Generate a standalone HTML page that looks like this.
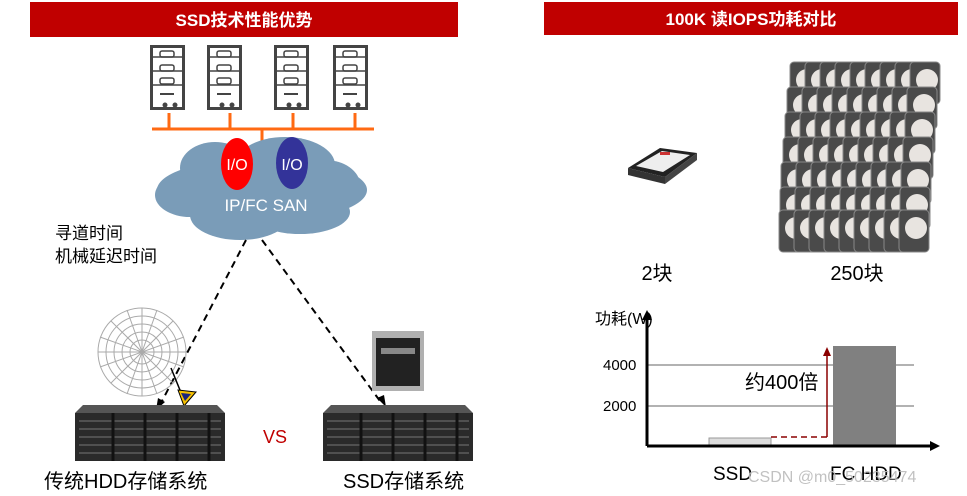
<!DOCTYPE html>
<html><head><meta charset="utf-8"><style>
body{margin:0;width:967px;height:496px;background:#fff;overflow:hidden;position:relative;font-family:"Liberation Sans","Noto Sans CJK SC",sans-serif}
</style></head><body>
<svg width="967" height="496" style="position:absolute;left:0;top:0" font-family="Liberation Sans, Noto Sans CJK SC, sans-serif">
<defs>
<g id="srv">
<rect x="1.5" y="1.5" width="32" height="62" fill="#fff" stroke="#444" stroke-width="3"/>
<line x1="2" y1="12" x2="33" y2="12" stroke="#444" stroke-width="1.5"/>
<line x1="2" y1="26" x2="33" y2="26" stroke="#444" stroke-width="1.5"/>
<line x1="2" y1="40" x2="33" y2="40" stroke="#444" stroke-width="1.5"/>
<rect x="10" y="6" width="14" height="6" rx="2" fill="none" stroke="#444" stroke-width="1.5"/>
<rect x="10" y="20" width="14" height="6" rx="2" fill="none" stroke="#444" stroke-width="1.5"/>
<rect x="10" y="33" width="14" height="6" rx="2" fill="none" stroke="#444" stroke-width="1.5"/>
<line x1="10" y1="49" x2="24" y2="49" stroke="#444" stroke-width="2"/>
<circle cx="15" cy="60" r="2.5" fill="#444"/><circle cx="25" cy="60" r="2.5" fill="#444"/>
</g>
<g id="encl">
<polygon points="8,0 142,0 150,8 0,8" fill="#555"/>
<rect x="0" y="8" width="150" height="48" fill="#2a2a2a"/>
<g stroke="#777" stroke-width="1">
<line x1="4" y1="16" x2="146" y2="16"/><line x1="4" y1="24" x2="146" y2="24"/><line x1="4" y1="32" x2="146" y2="32"/><line x1="4" y1="40" x2="146" y2="40"/><line x1="4" y1="48" x2="146" y2="48"/>
</g>
<g stroke="#111" stroke-width="3"><line x1="38" y1="8" x2="38" y2="56"/><line x1="70" y1="8" x2="70" y2="56"/><line x1="102" y1="8" x2="102" y2="56"/><line x1="134" y1="8" x2="134" y2="56"/></g>
</g>
<g id="hdd">
<rect x="0" y="0" width="30" height="42" rx="4" fill="#4a4a4a" stroke="#888" stroke-width="1"/>
<circle cx="17" cy="18" r="11" fill="#e8e4e0"/>
</g>
<g id="row"><use href="#hdd" x="0" y="0"/><use href="#hdd" x="15" y="0"/><use href="#hdd" x="30" y="0"/><use href="#hdd" x="45" y="0"/><use href="#hdd" x="60" y="0"/><use href="#hdd" x="75" y="0"/><use href="#hdd" x="90" y="0"/><use href="#hdd" x="105" y="0"/><use href="#hdd" x="120" y="0"/></g>
</defs>
<rect x="30" y="2" width="428" height="35" fill="#c00000"/>
<text x="244" y="26" fill="#fff" font-size="17" font-weight="bold" text-anchor="middle">SSD技术性能优势</text>
<rect x="544" y="2" width="414" height="33" fill="#c00000"/>
<text x="751" y="25" fill="#fff" font-size="17" font-weight="bold" text-anchor="middle">100K 读IOPS功耗对比</text>
<use href="#srv" x="150" y="45"/><use href="#srv" x="207" y="45"/><use href="#srv" x="274" y="45"/><use href="#srv" x="333" y="45"/>
<g stroke="#ff6a13" stroke-width="3">
<line x1="152" y1="129" x2="374" y2="129"/>
<line x1="169" y1="113" x2="169" y2="129"/><line x1="230" y1="113" x2="230" y2="129"/><line x1="293" y1="113" x2="293" y2="129"/><line x1="355" y1="113" x2="355" y2="129"/>
<line x1="262" y1="129" x2="262" y2="142"/>
</g>
<g fill="#7a9cb8">
<ellipse cx="262" cy="190" rx="105" ry="32"/>
<ellipse cx="215" cy="168" rx="35" ry="26"/>
<ellipse cx="285" cy="165" rx="50" ry="28"/>
<ellipse cx="325" cy="185" rx="35" ry="25"/>
<ellipse cx="240" cy="215" rx="50" ry="25"/>
<ellipse cx="300" cy="212" rx="50" ry="22"/>
<ellipse cx="190" cy="195" rx="35" ry="22"/>
</g>
<ellipse cx="237" cy="164" rx="16" ry="26" fill="#ff0000"/>
<ellipse cx="292" cy="163" rx="16" ry="26" fill="#333399"/>
<text x="237" y="170" fill="#fff" font-size="16" text-anchor="middle">I/O</text>
<text x="292" y="170" fill="#fff" font-size="16" text-anchor="middle">I/O</text>
<text x="266" y="211" fill="#fff" font-size="17" text-anchor="middle">IP/FC SAN</text>
<text x="55" y="239" font-size="17" fill="#000">寻道时间</text>
<text x="55" y="262" font-size="17" fill="#000">机械延迟时间</text>
<g stroke="#000" stroke-width="2" stroke-dasharray="7,5" fill="none">
<line x1="246" y1="240" x2="161" y2="403"/>
<line x1="262" y1="240" x2="380" y2="401"/>
</g>
<polygon points="156,410 158,398 165,402" fill="#000"/>
<polygon points="386,407 377,398 384,395" fill="#000"/>
<g fill="none" stroke="#aaa" stroke-width="1">
<circle cx="142" cy="352" r="44"/><circle cx="142" cy="352" r="36"/><circle cx="142" cy="352" r="28"/><circle cx="142" cy="352" r="20"/><circle cx="142" cy="352" r="12"/>
<line x1="98" y1="352" x2="186" y2="352"/><line x1="142" y1="308" x2="142" y2="396"/><line x1="111" y1="321" x2="173" y2="383"/><line x1="111" y1="383" x2="173" y2="321"/>
<line x1="100" y1="337" x2="184" y2="367"/><line x1="100" y1="367" x2="184" y2="337"/><line x1="127" y1="310" x2="157" y2="394"/><line x1="157" y1="310" x2="127" y2="394"/>
</g>
<line x1="171" y1="368" x2="184" y2="400" stroke="#000" stroke-width="1.5"/>
<polygon points="178,390 196,392 184,406" fill="#f5c000" stroke="#000"/>
<polygon points="181,393 191,394 185,401" fill="#1a237e"/>
<use href="#encl" x="75" y="405"/>
<use href="#encl" x="323" y="405"/>
<rect x="372" y="331" width="52" height="60" fill="#b0b0b0"/>
<rect x="376" y="338" width="44" height="48" fill="#222"/>
<rect x="381" y="348" width="34" height="6" fill="#888"/>
<text x="275" y="443" fill="#c00000" font-size="18" text-anchor="middle">VS</text>
<text x="44" y="488" font-size="20" fill="#000">传统HDD存储系统</text>
<text x="343" y="488" font-size="20" fill="#000">SSD存储系统</text>
<polygon points="628,168 660,148 697,153 665,177" fill="#222"/>
<polygon points="636,166 662,151 690,155 663,172" fill="#eee"/>
<polygon points="628,168 665,177 665,184 628,175" fill="#333"/>
<polygon points="665,177 697,153 697,160 665,184" fill="#444"/>
<rect x="660" y="152" width="10" height="3" fill="#c33"/>
<use href="#row" x="790" y="62"/><use href="#row" x="787" y="87"/><use href="#row" x="785" y="112"/><use href="#row" x="783" y="137"/><use href="#row" x="781" y="162"/><use href="#row" x="780" y="187"/><use href="#row" x="779" y="210"/>
<text x="657" y="280" font-size="20" text-anchor="middle" fill="#000">2块</text>
<text x="857" y="280" font-size="20" text-anchor="middle" fill="#000">250块</text>
<text x="595" y="324" font-size="16" fill="#000">功耗(W)</text>
<line x1="647" y1="365" x2="914" y2="365" stroke="#999" stroke-width="1.5"/>
<line x1="647" y1="406" x2="914" y2="406" stroke="#999" stroke-width="1.5"/>
<text x="603" y="370" font-size="15" fill="#000">4000</text>
<text x="603" y="411" font-size="15" fill="#000">2000</text>
<rect x="709" y="438" width="62" height="8" fill="#ddd" stroke="#999"/>
<rect x="833" y="346" width="63" height="100" fill="#808080"/>
<line x1="771" y1="437" x2="827" y2="437" stroke="#8b0000" stroke-width="1.5" stroke-dasharray="6,4"/>
<line x1="827" y1="437" x2="827" y2="355" stroke="#8b0000" stroke-width="1.5"/>
<polygon points="823,356 831,356 827,347" fill="#8b0000"/>
<text x="745" y="389" font-size="20" fill="#000">约400倍</text>
<line x1="647" y1="446" x2="932" y2="446" stroke="#000" stroke-width="3"/>
<polygon points="930,441 940,446 930,451" fill="#000"/>
<line x1="647" y1="446" x2="647" y2="318" stroke="#000" stroke-width="3"/>
<polygon points="642,320 647,310 652,320" fill="#000"/>
<text x="713" y="480" font-size="19" fill="#000">SSD</text>
<text x="830" y="480" font-size="19" fill="#000">FC HDD</text>
<text x="748" y="482" font-size="16" fill="#bbb" opacity="0.9">CSDN @m0_50235474</text>
</svg>
</body></html>
